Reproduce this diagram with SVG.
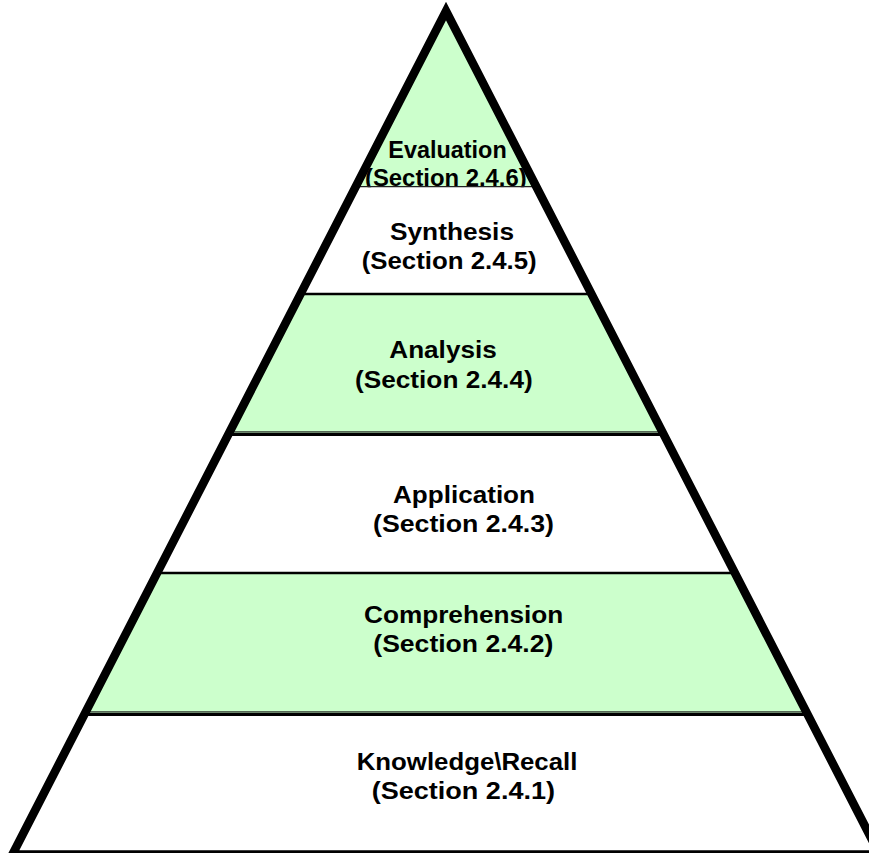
<svg xmlns="http://www.w3.org/2000/svg" width="869" height="853" viewBox="0 0 869 853">
  <style>
    .green { fill: #CCFFCC; }
    .white { fill: #FFFFFF; }
    .label { font-family: "Liberation Sans", Arial, sans-serif; font-weight: bold; font-size: 23px; fill: #000; }
    .thin { stroke: #222; stroke-width: 1.2; }
    .edge { stroke: #000; stroke-width: 2.5; }
    .shade { stroke: #556655; stroke-width: 1.6; }
    .heavy { stroke: #000; stroke-width: 3.2; }
    .outline { fill: none; stroke: #000; stroke-width: 8.5; stroke-linejoin: miter; }
  </style>
  <rect width="869" height="853" fill="#FFFFFF"/>

  <!-- Level 6: Evaluation (apex) -->
  <g id="evaluation">
    <polygon class="green" points="446,11 536.2,186.5 355.8,186.5"/>
    <text class="label" x="388.3" y="158.3" textLength="118.4" lengthAdjust="spacingAndGlyphs">Evaluation</text>
    <text class="label" x="365" y="185.5" textLength="161.7" lengthAdjust="spacingAndGlyphs">(Section 2.4.6)</text>
  </g>

  <!-- Level 5: Synthesis -->
  <g id="synthesis">
    <polygon class="white" points="355.8,187.2 536.2,187.2 591.5,294 300.5,294"/>
    <text class="label" x="390" y="240" textLength="124" lengthAdjust="spacingAndGlyphs">Synthesis</text>
    <text class="label" x="361.7" y="269.3" textLength="175" lengthAdjust="spacingAndGlyphs">(Section 2.4.5)</text>
  </g>

  <!-- Level 4: Analysis -->
  <g id="analysis">
    <polygon class="green" points="300.5,294 591.5,294 662.9,433 229.1,433"/>
    <text class="label" x="389.3" y="358.3" textLength="107.4" lengthAdjust="spacingAndGlyphs">Analysis</text>
    <text class="label" x="355" y="388.3" textLength="177.7" lengthAdjust="spacingAndGlyphs">(Section 2.4.4)</text>
  </g>

  <!-- Level 3: Application -->
  <g id="application">
    <polygon class="white" points="229.1,433 662.9,433 734.9,573 157.1,573"/>
    <text class="label" x="393" y="503" textLength="142" lengthAdjust="spacingAndGlyphs">Application</text>
    <text class="label" x="373" y="532" textLength="181" lengthAdjust="spacingAndGlyphs">(Section 2.4.3)</text>
  </g>

  <!-- Level 2: Comprehension -->
  <g id="comprehension">
    <polygon class="green" points="157.1,573 734.9,573 806.8,713 85.2,713"/>
    <text class="label" x="364" y="622.7" textLength="199.3" lengthAdjust="spacingAndGlyphs">Comprehension</text>
    <text class="label" x="373.3" y="651.7" textLength="180" lengthAdjust="spacingAndGlyphs">(Section 2.4.2)</text>
  </g>

  <!-- Level 1: Knowledge\Recall (base) -->
  <g id="knowledge">
    <polygon class="white" points="85.2,713 806.8,713 879.6,854.5 12.4,854.5"/>
    <text class="label" x="356.7" y="770" textLength="220.7" lengthAdjust="spacingAndGlyphs">Knowledge\Recall</text>
    <text class="label" x="371.7" y="799.3" textLength="183.3" lengthAdjust="spacingAndGlyphs">(Section 2.4.1)</text>
  </g>

  <!-- Dividers between levels -->
  <g id="dividers">
    <line class="thin" x1="355.8" y1="186.7" x2="536.2" y2="186.7"/>
    <line class="edge" x1="300.5" y1="294" x2="591.5" y2="294"/>
    <line class="shade" x1="229.1" y1="431.8" x2="662.9" y2="431.8"/>
    <line class="heavy" x1="229.1" y1="434.3" x2="662.9" y2="434.3"/>
    <line class="edge" x1="157.1" y1="572.9" x2="734.9" y2="572.9"/>
    <line class="shade" x1="85.2" y1="711.8" x2="806.8" y2="711.8"/>
    <line class="heavy" x1="85.2" y1="714.3" x2="806.8" y2="714.3"/>
  </g>

  <!-- Pyramid outline -->
  <g id="outline">
    <polygon class="outline" points="446,11 879.6,854.5 12.4,854.5"/>
  </g>
</svg>
